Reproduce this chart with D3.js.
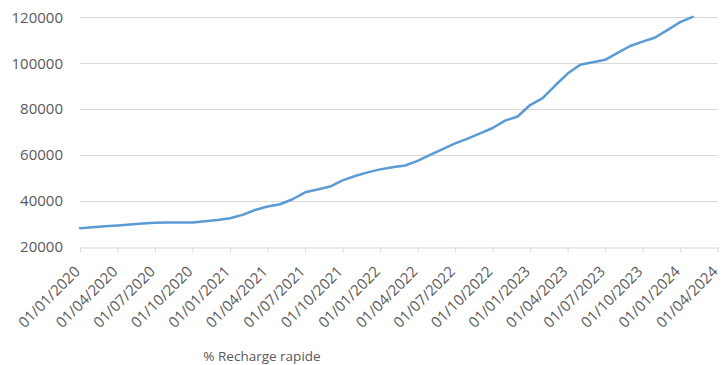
<!DOCTYPE html>
<html>
<head>
<meta charset="utf-8">
<script src="https://cdn.jsdelivr.net/npm/d3@7"></script>
<style>
  html, body { margin: 0; padding: 0; background: #ffffff; }
  svg { display: block; }
  text { font-family: "Open Sans", "Liberation Sans", sans-serif; fill: #595959; }
</style>
</head>
<body>
<svg id="chart" width="722" height="365"></svg>
<script>
// Monthly points, January 2020 to February 2024
const months = [
  "2020-01","2020-02","2020-03","2020-04","2020-05","2020-06","2020-07","2020-08","2020-09","2020-10","2020-11","2020-12",
  "2021-01","2021-02","2021-03","2021-04","2021-05","2021-06","2021-07","2021-08","2021-09","2021-10","2021-11","2021-12",
  "2022-01","2022-02","2022-03","2022-04","2022-05","2022-06","2022-07","2022-08","2022-09","2022-10","2022-11","2022-12",
  "2023-01","2023-02","2023-03","2023-04","2023-05","2023-06","2023-07","2023-08","2023-09","2023-10","2023-11","2023-12",
  "2024-01","2024-02"
];
const values = [
  28200, 28600, 29000, 29400, 29800, 30200, 30600, 30700, 30700, 30700, 31200, 31800,
  32500, 34000, 36100, 37600, 38600, 40800, 43800, 45000, 46300, 49000, 50900, 52500,
  53800, 54700, 55500, 57500, 60100, 62600, 65100, 67200, 69500, 71800, 75000, 76800,
  81800, 84800, 90300, 95500, 99300, 100400, 101500, 104500, 107500, 109400, 111200, 114500,
  117900, 120200
];
// Quarterly axis labels
const tickLabels = [
  "01/01/2020","01/04/2020","01/07/2020","01/10/2020",
  "01/01/2021","01/04/2021","01/07/2021","01/10/2021",
  "01/01/2022","01/04/2022","01/07/2022","01/10/2022",
  "01/01/2023","01/04/2023","01/07/2023","01/10/2023",
  "01/01/2024","01/04/2024"
];
const yTicks = [20000, 40000, 60000, 80000, 100000, 120000];
const seriesName = "% Recharge rapide";

const svg = d3.select("#chart");
const plot = { left: 80, right: 717.7, top: 17.3, bottom: 247 };

// Month index from "YYYY-MM"
const monthIndex = s => {
  const [yr, m] = s.split("-").map(Number);
  return (yr - 2020) * 12 + (m - 1);
};
const lastIndex = (tickLabels.length - 1) * 3;

const x = d3.scaleLinear().domain([0, lastIndex]).range([plot.left, plot.right]);
const y = d3.scaleLinear().domain([20000, 120000]).range([plot.bottom, plot.top]);

// Horizontal gridlines
svg.append("g")
  .selectAll("line")
  .data(yTicks.slice(1))
  .join("line")
  .attr("x1", plot.left).attr("x2", plot.right)
  .attr("y1", d => Math.round(y(d)) + 0.5).attr("y2", d => Math.round(y(d)) + 0.5)
  .attr("stroke", "#d9d9d9").attr("stroke-width", 1);

// Y axis labels
const yAxis = d3.axisLeft(y).tickValues(yTicks).tickSize(0).tickPadding(0).tickFormat(d3.format("d"));
const gy = svg.append("g").attr("transform", `translate(${plot.left - 17},0)`).call(yAxis);
gy.select(".domain").remove();
gy.selectAll("text")
  .style("font-family", '"Open Sans", sans-serif')
  .style("font-size", "15px")
  .attr("fill", "#595959");

// X axis with quarterly ticks
const tickIdx = tickLabels.map((_, i) => i * 3);
const xAxis = d3.axisBottom(x).tickValues(tickIdx).tickSize(5).tickSizeOuter(0)
  .tickFormat((d, i) => tickLabels[i]);
const gx = svg.append("g").attr("transform", `translate(0,${Math.round(plot.bottom) + 0.5})`).call(xAxis);
gx.select(".domain").attr("stroke", "#d9d9d9");
gx.selectAll(".tick line").attr("stroke", "#d9d9d9");
gx.selectAll("text")
  .style("font-family", '"Open Sans", sans-serif')
  .style("font-size", "15px")
  .attr("fill", "#595959")
  .attr("text-anchor", "end")
  .attr("dy", null)
  .attr("y", null)
  .attr("transform", "translate(0.5,25) rotate(-45)");

// Series line
const line = d3.line()
  .x(d => x(monthIndex(d.m)))
  .y(d => y(d.v));
svg.append("path")
  .datum(months.map((m, i) => ({ m, v: values[i] })))
  .attr("fill", "none")
  .attr("stroke", "#5b9bd5")
  .attr("stroke-width", 2.5)
  .attr("stroke-linejoin", "round")
  .attr("stroke-linecap", "round")
  .attr("d", line);

// Legend text
svg.append("text")
  .attr("x", 262).attr("y", 361)
  .attr("text-anchor", "middle")
  .style("font-size", "13.5px")
  .text(seriesName);
</script>
</body>
</html>
